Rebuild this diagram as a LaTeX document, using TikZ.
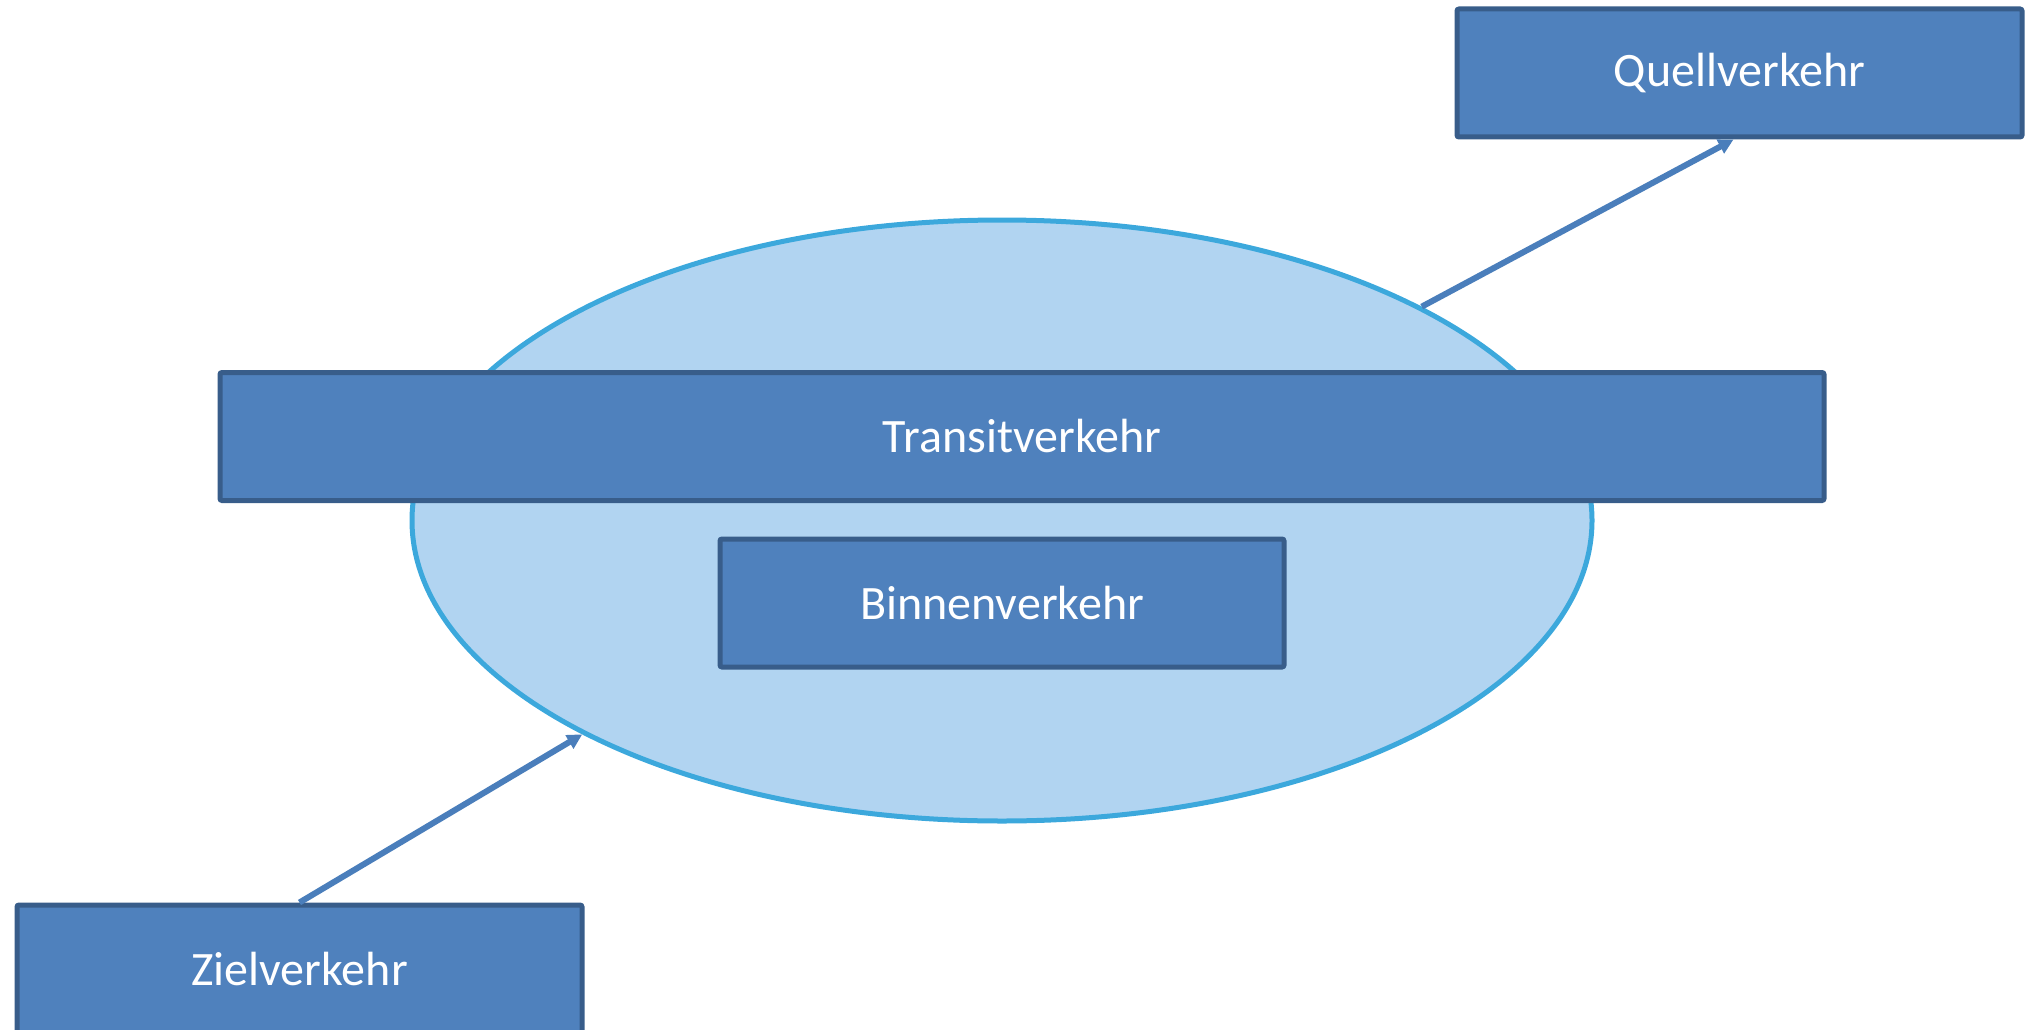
\documentclass[tikz,border=0pt]{standalone}
\usepackage{fontspec}
\setmainfont{Carlito}
\usetikzlibrary{arrows.meta,shapes.geometric}
\definecolor{boxfill}{HTML}{4F81BD}
\definecolor{boxline}{HTML}{385D8A}
\definecolor{areafill}{HTML}{B1D4F1}
\definecolor{arealine}{HTML}{3CA8DC}
\definecolor{flowline}{HTML}{4A7EBB}
\tikzset{
  trafficbox/.style={draw=boxline, fill=boxfill, line width=5pt, rounded corners=2pt,
    minimum height=128pt, inner sep=0pt, text=white,
    font=\fontsize{48}{54}\selectfont},
  area/.style={ellipse, draw=arealine, fill=areafill, line width=5pt, inner sep=0pt,
    minimum width=1180pt, minimum height=601pt},
  flow/.style={draw=flowline, line width=6pt,
    -{Triangle[length=15pt,width=15pt]}},
}
\begin{document}
\begin{tikzpicture}[x=1pt,y=-1pt]
  \useasboundingbox (0,0) rectangle (2031,1030);
  % study area
  \node[area] (gebiet) at (1002,520.5) {};
  % traffic categories
  \node[trafficbox, minimum width=1604pt] (transit) at (1022,436.5) {Transitverkehr};
  \node[trafficbox, minimum width=564pt] (binnen) at (1002,603) {Binnenverkehr};
  \node[trafficbox, minimum width=565pt] (quell) at (1739.5,73) {Quellverkehr};
  \node[trafficbox, minimum width=565pt] (ziel) at (299.5,969) {Zielverkehr};
  % flows leaving and entering the area
  \draw[flow] (gebiet.27) -- ([xshift=-6pt]quell.south);
  \draw[flow] (ziel.north) -- (gebiet.207);
\end{tikzpicture}
\end{document}
